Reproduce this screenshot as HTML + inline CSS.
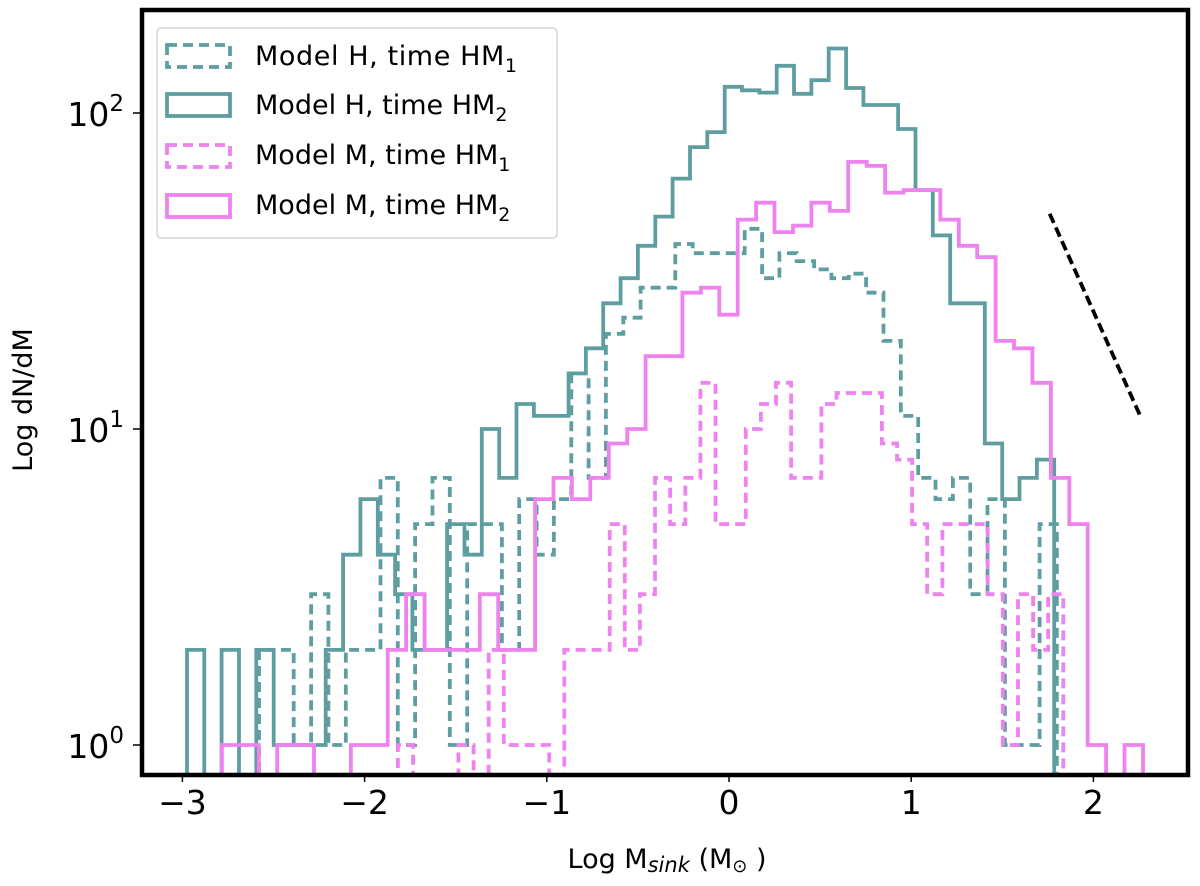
<!DOCTYPE html>
<html><head><meta charset="utf-8"><style>
body{margin:0;background:#fff;}
svg{display:block;font-family:"DejaVu Sans","Liberation Sans",sans-serif;}
</style></head><body>
<svg id="chart" width="1200" height="886" viewBox="0 0 1200 886">
<defs><clipPath id="plotclip"><rect x="142" y="10" width="1046" height="763"/></clipPath></defs>
<rect x="0" y="0" width="1200" height="886" fill="#fff"/>
<g id="series" clip-path="url(#plotclip)"></g>
<g id="axes"></g>
<rect x="142" y="10" width="1046" height="765" fill="none" stroke="#000" stroke-width="4.5"/>
<g id="legend">
  <rect x="157" y="28" width="400" height="210" rx="4" fill="#fff" fill-opacity="0.85" stroke="#ccc" stroke-width="1.2"/>
  <rect x="167" y="45" width="63" height="22" fill="none" stroke="#5f9ea0" stroke-width="3.8" stroke-dasharray="10,6"/>
  <text x="255" y="65" font-size="27" textLength="262">Model H, time HM<tspan font-size="19" dy="7">1</tspan></text>
  <rect x="167" y="94" width="63" height="22" fill="none" stroke="#5f9ea0" stroke-width="3.8"/>
  <text x="255" y="114" font-size="27">Model H, time HM<tspan font-size="19" dy="7">2</tspan></text>
  <rect x="167" y="145" width="63" height="22" fill="none" stroke="#ee82ee" stroke-width="3.8" stroke-dasharray="10,6"/>
  <text x="255" y="164" font-size="27">Model M, time HM<tspan font-size="19" dy="7">1</tspan></text>
  <rect x="167" y="195" width="63" height="22" fill="none" stroke="#ee82ee" stroke-width="3.8"/>
  <text x="255" y="214" font-size="27">Model M, time HM<tspan font-size="19" dy="7">2</tspan></text>
</g>
<text x="0" y="0" transform="translate(32,400) rotate(-90)" text-anchor="middle" font-size="27">Log dN/dM</text>
<text x="667" y="868" text-anchor="middle" font-size="27">Log M<tspan font-style="italic" font-size="21" dy="4">sink</tspan><tspan dy="-4"> (M</tspan><tspan font-size="18" dy="4">⊙</tspan><tspan dy="-4"> )</tspan></text>
</svg>
<script>
const xTicks = [-3, -2, -1, 0, 1, 2];
const xTickLabels = ["\u22123", "\u22122", "\u22121", "0", "1", "2"];
const yTicks = [1, 10, 100];
const yTickExp = ["0", "1", "2"];

const tealSolidStart = -2.975, tealSolidWidth = 0.0952;
const tealSolid = [2,0,2,0,2,1,1,1,2,4,6,4,3,2,2,5,4,10,7,12,11,11,15,18,25,30,38,47,62,78,87,121,118,116,141,115,127,160,120,106,106,89,57,41,25,25,9,6,7,8];
const tealDashStart = -2.865, tealDashWidth = 0.0952;
const tealDash = [0,0,0,2,2,1,3,1,2,2,7,1,5,7,1,5,5,2,6,4,6,15,7,20,22.5,28,28,38.5,36,36,36,43,30,36,34,32,30,31,27,19,11,7,6,7,3,6,1,1,5,0];
const pinkSolidStart = -2.783, pinkSolidWidth = 0.1011;
const pinkSolid = [1,1,0,1,1,0,0,1,1,2,3,2,2,2,3,2,2,6,7,6,7,9,10,17,17,27,28,23,46,52,42,44,52,49,70,68,56,57,57,46,38,35,19,18,14,7,5,1,0,1];
const pinkDashStart = -1.817, pinkDashWidth = 0.083;
const pinkDash = [1,0,0,0,1,0,2,1,1,1,0,2,2,2,5,2,3,7,5,7,14,5,5,10,12,14,7,7,12,13,13,13,9,8,5,3,5,5,5,3,1,3,2,3];

const slopeX = [1.76, 2.26];
const slopeY = [48, 10.9];

const NS = "http://www.w3.org/2000/svg";
const xPix = v => 729 + 182.2 * v;
const yPix = v => 745 - 316 * Math.log10(v);
const BOTTOM = 800;

function yOf(v){ return v > 0 ? yPix(v) : BOTTOM; }

function stepPath(start, width, vals){
  let d = "M" + xPix(start).toFixed(1) + "," + BOTTOM;
  vals.forEach((v, i) => {
    const x0 = xPix(start + i * width), x1 = xPix(start + (i + 1) * width);
    const y = yOf(v);
    d += " L" + x0.toFixed(1) + "," + y.toFixed(1) + " L" + x1.toFixed(1) + "," + y.toFixed(1);
  });
  d += " L" + xPix(start + vals.length * width).toFixed(1) + "," + BOTTOM;
  return d;
}

const sg = document.getElementById("series");
function addSeries(name, start, width, vals, color, dashed){
  const p = document.createElementNS(NS, "path");
  p.setAttribute("d", stepPath(start, width, vals));
  p.setAttribute("fill", "none");
  p.setAttribute("stroke", color);
  p.setAttribute("stroke-width", "3.8");
  p.setAttribute("stroke-linejoin", "miter");
  if (dashed) p.setAttribute("stroke-dasharray", "10,6");
  
  
  sg.appendChild(p);
}
addSeries("hist-model-h-hm1", tealDashStart, tealDashWidth, tealDash, "#5f9ea0", true);
addSeries("hist-model-h-hm2", tealSolidStart, tealSolidWidth, tealSolid, "#5f9ea0", false);
addSeries("hist-model-m-hm1", pinkDashStart, pinkDashWidth, pinkDash, "#ee82ee", true);
addSeries("hist-model-m-hm2", pinkSolidStart, pinkSolidWidth, pinkSolid, "#ee82ee", false);

const sl = document.createElementNS(NS, "line");
sl.setAttribute("x1", xPix(slopeX[0])); sl.setAttribute("y1", yPix(slopeY[0]));
sl.setAttribute("x2", xPix(slopeX[1])); sl.setAttribute("y2", yPix(slopeY[1]));
sl.setAttribute("stroke", "#000"); sl.setAttribute("stroke-width", "3.8");
sl.setAttribute("stroke-dasharray", "10,5");


sg.appendChild(sl);

const ax = document.getElementById("axes");
xTicks.forEach((t, i) => {
  const x = xPix(t);
  const tk = document.createElementNS(NS, "line");
  tk.setAttribute("x1", x); tk.setAttribute("x2", x);
  tk.setAttribute("y1", 775); tk.setAttribute("y2", 782);
  tk.setAttribute("stroke", "#000"); tk.setAttribute("stroke-width", "1.5");
  
  
  ax.appendChild(tk);
  const tx = document.createElementNS(NS, "text");
  tx.setAttribute("x", x); tx.setAttribute("y", 814);
  tx.setAttribute("text-anchor", "middle"); tx.setAttribute("font-size", "33");
  tx.textContent = xTickLabels[i];
  
  
  ax.appendChild(tx);
});
yTicks.forEach((t, i) => {
  const y = yPix(t);
  const tk = document.createElementNS(NS, "line");
  tk.setAttribute("x1", 133); tk.setAttribute("x2", 142);
  tk.setAttribute("y1", y); tk.setAttribute("y2", y);
  tk.setAttribute("stroke", "#000"); tk.setAttribute("stroke-width", "1.5");
  
  
  ax.appendChild(tk);
  const tx = document.createElementNS(NS, "text");
  tx.setAttribute("x", 124); tx.setAttribute("y", y + 13);
  tx.setAttribute("text-anchor", "end"); tx.setAttribute("font-size", "33");
  tx.innerHTML = '10<tspan font-size="23" dy="-15">' + yTickExp[i] + '</tspan>';
  
  
  ax.appendChild(tx);
});
</script>
</body></html>
